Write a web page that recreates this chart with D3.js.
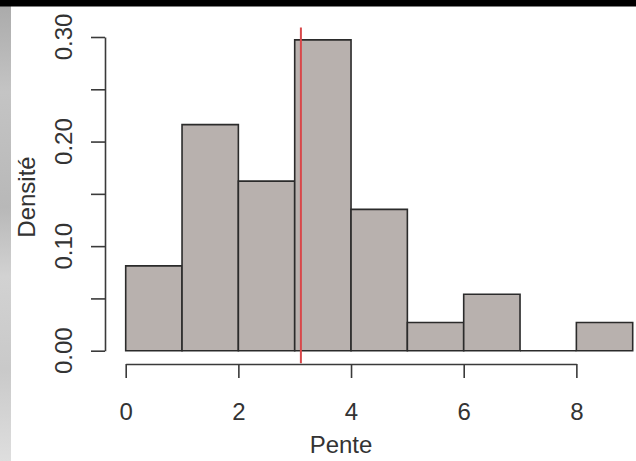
<!DOCTYPE html>
<html><head><meta charset="utf-8">
<script src="https://cdn.jsdelivr.net/npm/d3@7"></script>
<style>
html,body{margin:0;padding:0;background:#fff;}
svg{display:block;}
text{font-family:"Liberation Sans",Arial,sans-serif;fill:#333;}
</style></head>
<body>
<svg id="c" width="636" height="461"></svg>
<script>
// Data
const binEdges = [0,1,2,3,4,5,6,7,8,9];
const densities = [3/37, 8/37, 6/37, 11/37, 5/37, 1/37, 2/37, 0, 1/37];
const meanLine = 3.11;
const xTicks = [0,2,4,6,8];
const yTicks = [0,0.05,0.10,0.15,0.20,0.25,0.30];
const yLabels = [0,0.10,0.20,0.30];
const xLabel = "Pente";
const yLabel = "Densité";

const svg = d3.select("#c");

// background decorations (frame of the photo)
const defs = svg.append("defs");
const g1 = defs.append("linearGradient").attr("id","strip").attr("x1",0).attr("y1",0).attr("x2",0).attr("y2",1);
[["0%","#a9a9a9"],["20%","#c4c4c4"],["45%","#b8b8b8"],["60%","#d2d2d2"],["80%","#c9c9c9"],["100%","#dedede"]]
  .forEach(s=>g1.append("stop").attr("offset",s[0]).attr("stop-color",s[1]));
svg.append("rect").attr("x",0).attr("y",0).attr("width",11).attr("height",461).attr("fill","url(#strip)");
svg.append("rect").attr("x",0).attr("y",0).attr("width",636).attr("height",6.5).attr("fill","#000");

const x = d3.scaleLinear().domain([0,9]).range([125.7,632.7]);
const y = d3.scaleLinear().domain([0,0.30]).range([350.7,37]);

// bars (drawn as closed paths so empty bins still show their baseline)
const bins = densities.map((d,i)=>({x0:binEdges[i], x1:binEdges[i+1], d}));
svg.append("g").selectAll("path").data(bins).join("path")
  .attr("d", b=>{
    const l=x(b.x0), r=x(b.x1), t=y(b.d), bt=y(0);
    return `M${l},${bt}L${l},${t}L${r},${t}L${r},${bt}Z`;
  })
  .attr("fill","#b8b1ae").attr("stroke","#2b2b2b").attr("stroke-width",1.6);

// red vertical line
svg.append("line")
  .attr("x1",x(meanLine)).attr("x2",x(meanLine))
  .attr("y1",y(0.309)).attr("y2",y(-0.0119))
  .attr("stroke","#d8484a").attr("stroke-width",2);

// x axis
const xa = x.copy().domain([0,8]).range([x(0),x(8)]);
const gx = svg.append("g").attr("transform","translate(0,364)")
  .call(d3.axisBottom(xa).tickValues(xTicks).tickSize(14).tickSizeOuter(0).tickPadding(25).tickFormat(d3.format("d")));
gx.select(".domain").attr("stroke","#3a3a3a").attr("stroke-width",1.6);
gx.selectAll(".tick line").attr("stroke","#3a3a3a").attr("stroke-width",1.6);
gx.selectAll(".tick text").attr("font-size",24).attr("font-family","Liberation Sans, Arial, sans-serif").attr("fill","#333");

// y axis
const gy = svg.append("g").attr("transform","translate(105,0)")
  .call(d3.axisLeft(y).tickValues(yTicks).tickSize(14).tickSizeOuter(0).tickFormat(""));
gy.select(".domain").attr("stroke","#3a3a3a").attr("stroke-width",1.6);
gy.selectAll(".tick line").attr("stroke","#3a3a3a").attr("stroke-width",1.6);

svg.append("g").selectAll("text").data(yLabels).join("text")
  .attr("transform", d=>`translate(72,${y(d)}) rotate(-90)`)
  .attr("text-anchor","middle").attr("font-size",24)
  .text(d3.format(".2f"));

svg.append("text").attr("x",341).attr("y",453).attr("text-anchor","middle").attr("font-size",24).text(xLabel);
svg.append("text").attr("transform","translate(35,197) rotate(-90)").attr("text-anchor","middle").attr("font-size",24).text(yLabel);
</script>
</body></html>
